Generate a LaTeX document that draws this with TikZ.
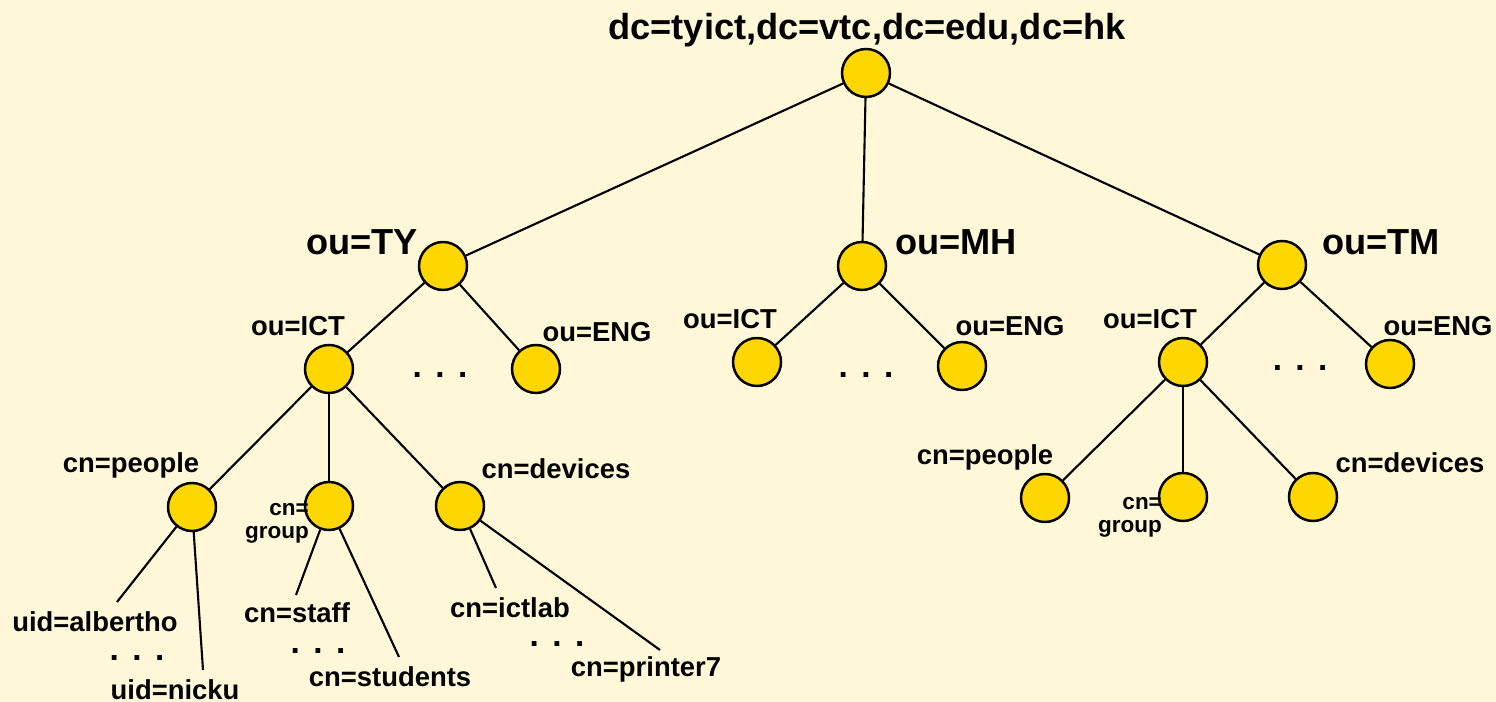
\documentclass[tikz,border=0pt]{standalone}
\usepackage[svgnames]{xcolor}
\usepackage{fontspec}
\setmainfont{Liberation Sans}
\usepackage{tikz}
\definecolor{Paper}{RGB}{254,248,216}
\tikzstyle{none}=[inner sep=0pt]
\tikzstyle{entry}=[circle,draw=Black,fill=Gold,line width=0.7pt,minimum size=0.48cm,inner sep=0pt]
\tikzstyle{simple}=[-,draw=Black,line width=0.6pt]
\tikzstyle{labelbig}=[inner sep=0pt,font=\fontsize{10.3}{12}\selectfont\bfseries]
\tikzstyle{labelmid}=[inner sep=0pt,font=\fontsize{7.8}{9}\selectfont\bfseries]
\tikzstyle{labelsmall}=[inner sep=0pt,align=right,font=\fontsize{6.4}{6.6}\selectfont\bfseries]
\tikzstyle{dots}=[inner sep=0pt,font=\fontsize{9.5}{10}\selectfont\bfseries]
\newcommand{\threedots}{.\hspace{3.8pt}.\hspace{3.8pt}.}

\begin{document}
\begin{tikzpicture}
  \fill [Paper] (0, 0) rectangle (14.96, 7.02);
  \useasboundingbox (0, 0) rectangle (14.96, 7.02);
  % entries
  \node [style=entry] (0) at (8.66, 6.29) {};
  \node [style=entry] (1) at (4.43, 4.36) {};
  \node [style=entry] (2) at (8.62, 4.36) {};
  \node [style=entry] (3) at (12.82, 4.37) {};
  \node [style=entry] (4) at (3.29, 3.33) {};
  \node [style=entry] (5) at (5.36, 3.33) {};
  \node [style=entry] (6) at (7.57, 3.40) {};
  \node [style=entry] (7) at (9.62, 3.36) {};
  \node [style=entry] (8) at (11.83, 3.40) {};
  \node [style=entry] (9) at (13.90, 3.38) {};
  \node [style=entry] (10) at (1.92, 1.95) {};
  \node [style=entry] (11) at (3.29, 1.96) {};
  \node [style=entry] (12) at (4.60, 1.96) {};
  \node [style=entry] (13) at (10.45, 2.04) {};
  \node [style=entry] (14) at (11.83, 2.05) {};
  \node [style=entry] (15) at (13.13, 2.05) {};
  % labels
  \node [style=labelbig] (16) at (8.67, 6.72) {dc=tyict,dc=vtc,dc=edu,dc=hk};
  \node [style=labelbig] (17) at (3.62, 4.60) {ou=TY};
  \node [style=labelbig] (18) at (9.56, 4.60) {ou=MH};
  \node [style=labelbig] (19) at (13.81, 4.60) {ou=TM};
  \node [style=labelmid] (20) at (2.98, 3.76) {ou=ICT};
  \node [style=labelmid] (21) at (5.97, 3.70) {ou=ENG};
  \node [style=labelmid] (22) at (7.30, 3.83) {ou=ICT};
  \node [style=labelmid] (23) at (10.10, 3.76) {ou=ENG};
  \node [style=labelmid] (24) at (11.50, 3.83) {ou=ICT};
  \node [style=labelmid] (25) at (14.38, 3.76) {ou=ENG};
  \node [style=dots] (26) at (4.40, 3.27) {\threedots};
  \node [style=dots] (27) at (8.66, 3.27) {\threedots};
  \node [style=dots] (28) at (13.00, 3.34) {\threedots};
  \node [style=labelmid] (29) at (1.31, 2.37) {cn=people};
  \node [style=labelsmall] (30) at (2.77, 1.79) {cn=\\group};
  \node [style=labelmid] (31) at (5.56, 2.33) {cn=devices};
  \node [style=labelmid] (32) at (9.85, 2.45) {cn=people};
  \node [style=labelsmall] (33) at (11.30, 1.85) {cn=\\group};
  \node [style=labelmid] (34) at (14.10, 2.39) {cn=devices};
  \node [style=labelmid] (35) at (0.95, 0.80) {uid=albertho};
  \node [style=dots] (36) at (1.37, 0.44) {\threedots};
  \node [style=labelmid] (37) at (1.75, 0.12) {uid=nicku};
  \node [style=labelmid] (38) at (2.97, 0.89) {cn=staff};
  \node [style=dots] (39) at (3.18, 0.51) {\threedots};
  \node [style=labelmid] (40) at (3.90, 0.25) {cn=students};
  \node [style=labelmid] (41) at (5.10, 0.94) {cn=ictlab};
  \node [style=dots] (42) at (5.57, 0.58) {\threedots};
  \node [style=labelmid] (43) at (6.46, 0.33) {cn=printer7};
  % free ends above the leaves
  \coordinate (44) at (1.17, 1.00);
  \coordinate (45) at (2.03, 0.32);
  \coordinate (46) at (2.96, 1.07);
  \coordinate (47) at (3.99, 0.45);
  \coordinate (48) at (4.96, 1.14);
  \coordinate (49) at (6.60, 0.52);
  % connectors
  \draw [style=simple] (0) to (1);
  \draw [style=simple] (0) to (2);
  \draw [style=simple] (0) to (3);
  \draw [style=simple] (1) to (4);
  \draw [style=simple] (1) to (5);
  \draw [style=simple] (2) to (6);
  \draw [style=simple] (2) to (7);
  \draw [style=simple] (3) to (8);
  \draw [style=simple] (3) to (9);
  \draw [style=simple] (4) to (10);
  \draw [style=simple] (4) to (11);
  \draw [style=simple] (4) to (12);
  \draw [style=simple] (8) to (13);
  \draw [style=simple] (8) to (14);
  \draw [style=simple] (8) to (15);
  \draw [style=simple] (10) to (44);
  \draw [style=simple] (10) to (45);
  \draw [style=simple] (11) to (46);
  \draw [style=simple] (11) to (47);
  \draw [style=simple] (12) to (48);
  \draw [style=simple] (12) to (49);
\end{tikzpicture}
\end{document}
